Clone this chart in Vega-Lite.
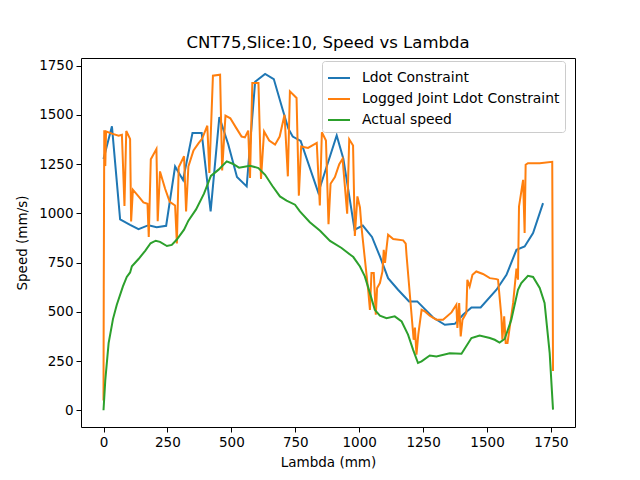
{
  "$schema": "https://vega.github.io/schema/vega-lite/v6.json",
  "autosize": {"type": "none"},
  "padding": {"left": 81, "top": 58, "right": 65, "bottom": 53},
  "width": 494,
  "height": 369,
  "background": "white",
  "title": {
    "text": "CNT75,Slice:10, Speed vs Lambda",
    "font": "DejaVu Sans",
    "fontSize": 16.5,
    "fontWeight": "normal",
    "color": "black",
    "offset": 7
  },
  "config": {
    "view": {"stroke": "black", "strokeWidth": 1},
    "axis": {
      "grid": false,
      "domain": false,
      "tickColor": "black",
      "tickSize": 5,
      "labelFont": "DejaVu Sans",
      "labelFontSize": 13.5,
      "labelColor": "black",
      "titleFont": "DejaVu Sans",
      "titleFontSize": 13.5,
      "titleFontWeight": "normal",
      "titleColor": "black",
      "labelPadding": 3
    }
  },
  "data": {
    "values": [
      {"series": "Ldot Constraint", "lambda": 0, "speed": 1276},
      {"series": "Ldot Constraint", "lambda": 33, "speed": 1442},
      {"series": "Ldot Constraint", "lambda": 65, "speed": 970},
      {"series": "Ldot Constraint", "lambda": 104, "speed": 942},
      {"series": "Ldot Constraint", "lambda": 137, "speed": 920},
      {"series": "Ldot Constraint", "lambda": 176, "speed": 940},
      {"series": "Ldot Constraint", "lambda": 208, "speed": 930},
      {"series": "Ldot Constraint", "lambda": 245, "speed": 937},
      {"series": "Ldot Constraint", "lambda": 280, "speed": 1238},
      {"series": "Ldot Constraint", "lambda": 311, "speed": 1169},
      {"series": "Ldot Constraint", "lambda": 348, "speed": 1408},
      {"series": "Ldot Constraint", "lambda": 384, "speed": 1408},
      {"series": "Ldot Constraint", "lambda": 419, "speed": 1010},
      {"series": "Ldot Constraint", "lambda": 453, "speed": 1489},
      {"series": "Ldot Constraint", "lambda": 488, "speed": 1350},
      {"series": "Ldot Constraint", "lambda": 522, "speed": 1185},
      {"series": "Ldot Constraint", "lambda": 560, "speed": 1137},
      {"series": "Ldot Constraint", "lambda": 593, "speed": 1668},
      {"series": "Ldot Constraint", "lambda": 632, "speed": 1708},
      {"series": "Ldot Constraint", "lambda": 666, "speed": 1682},
      {"series": "Ldot Constraint", "lambda": 700, "speed": 1530},
      {"series": "Ldot Constraint", "lambda": 723, "speed": 1430},
      {"series": "Ldot Constraint", "lambda": 740, "speed": 1390},
      {"series": "Ldot Constraint", "lambda": 771, "speed": 1368},
      {"series": "Ldot Constraint", "lambda": 840, "speed": 1105},
      {"series": "Ldot Constraint", "lambda": 912, "speed": 1396},
      {"series": "Ldot Constraint", "lambda": 938, "speed": 1278},
      {"series": "Ldot Constraint", "lambda": 982, "speed": 917},
      {"series": "Ldot Constraint", "lambda": 1014, "speed": 938},
      {"series": "Ldot Constraint", "lambda": 1050, "speed": 880},
      {"series": "Ldot Constraint", "lambda": 1081, "speed": 781},
      {"series": "Ldot Constraint", "lambda": 1113, "speed": 671},
      {"series": "Ldot Constraint", "lambda": 1152, "speed": 612},
      {"series": "Ldot Constraint", "lambda": 1195, "speed": 553},
      {"series": "Ldot Constraint", "lambda": 1227, "speed": 553},
      {"series": "Ldot Constraint", "lambda": 1289, "speed": 471},
      {"series": "Ldot Constraint", "lambda": 1335, "speed": 434},
      {"series": "Ldot Constraint", "lambda": 1374, "speed": 439},
      {"series": "Ldot Constraint", "lambda": 1406, "speed": 485},
      {"series": "Ldot Constraint", "lambda": 1439, "speed": 522},
      {"series": "Ldot Constraint", "lambda": 1475, "speed": 522},
      {"series": "Ldot Constraint", "lambda": 1537, "speed": 612},
      {"series": "Ldot Constraint", "lambda": 1576, "speed": 688},
      {"series": "Ldot Constraint", "lambda": 1615, "speed": 815},
      {"series": "Ldot Constraint", "lambda": 1647, "speed": 832},
      {"series": "Ldot Constraint", "lambda": 1680, "speed": 900},
      {"series": "Ldot Constraint", "lambda": 1719, "speed": 1052},

      {"series": "Logged Joint Ldot Constraint", "lambda": 0, "speed": 50},
      {"series": "Logged Joint Ldot Constraint", "lambda": 1, "speed": 620},
      {"series": "Logged Joint Ldot Constraint", "lambda": 3, "speed": 1422},
      {"series": "Logged Joint Ldot Constraint", "lambda": 7, "speed": 1240},
      {"series": "Logged Joint Ldot Constraint", "lambda": 10, "speed": 1416},
      {"series": "Logged Joint Ldot Constraint", "lambda": 33, "speed": 1405},
      {"series": "Logged Joint Ldot Constraint", "lambda": 59, "speed": 1394},
      {"series": "Logged Joint Ldot Constraint", "lambda": 72, "speed": 1399},
      {"series": "Logged Joint Ldot Constraint", "lambda": 82, "speed": 1037},
      {"series": "Logged Joint Ldot Constraint", "lambda": 89, "speed": 1418},
      {"series": "Logged Joint Ldot Constraint", "lambda": 104, "speed": 1378},
      {"series": "Logged Joint Ldot Constraint", "lambda": 108, "speed": 959},
      {"series": "Logged Joint Ldot Constraint", "lambda": 115, "speed": 1120},
      {"series": "Logged Joint Ldot Constraint", "lambda": 137, "speed": 1086},
      {"series": "Logged Joint Ldot Constraint", "lambda": 156, "speed": 1056},
      {"series": "Logged Joint Ldot Constraint", "lambda": 172, "speed": 1049},
      {"series": "Logged Joint Ldot Constraint", "lambda": 177, "speed": 880},
      {"series": "Logged Joint Ldot Constraint", "lambda": 185, "speed": 1275},
      {"series": "Logged Joint Ldot Constraint", "lambda": 207, "speed": 1327},
      {"series": "Logged Joint Ldot Constraint", "lambda": 212, "speed": 960},
      {"series": "Logged Joint Ldot Constraint", "lambda": 221, "speed": 1213},
      {"series": "Logged Joint Ldot Constraint", "lambda": 241, "speed": 1125},
      {"series": "Logged Joint Ldot Constraint", "lambda": 259, "speed": 1058},
      {"series": "Logged Joint Ldot Constraint", "lambda": 280, "speed": 1040},
      {"series": "Logged Joint Ldot Constraint", "lambda": 287, "speed": 847},
      {"series": "Logged Joint Ldot Constraint", "lambda": 294, "speed": 1234},
      {"series": "Logged Joint Ldot Constraint", "lambda": 315, "speed": 1290},
      {"series": "Logged Joint Ldot Constraint", "lambda": 323, "speed": 1010},
      {"series": "Logged Joint Ldot Constraint", "lambda": 332, "speed": 1238},
      {"series": "Logged Joint Ldot Constraint", "lambda": 352, "speed": 1320},
      {"series": "Logged Joint Ldot Constraint", "lambda": 372, "speed": 1357},
      {"series": "Logged Joint Ldot Constraint", "lambda": 386, "speed": 1380},
      {"series": "Logged Joint Ldot Constraint", "lambda": 406, "speed": 1445},
      {"series": "Logged Joint Ldot Constraint", "lambda": 414, "speed": 1205},
      {"series": "Logged Joint Ldot Constraint", "lambda": 428, "speed": 1699},
      {"series": "Logged Joint Ldot Constraint", "lambda": 456, "speed": 1704},
      {"series": "Logged Joint Ldot Constraint", "lambda": 464, "speed": 1218},
      {"series": "Logged Joint Ldot Constraint", "lambda": 477, "speed": 1496},
      {"series": "Logged Joint Ldot Constraint", "lambda": 496, "speed": 1483},
      {"series": "Logged Joint Ldot Constraint", "lambda": 517, "speed": 1438},
      {"series": "Logged Joint Ldot Constraint", "lambda": 540, "speed": 1390},
      {"series": "Logged Joint Ldot Constraint", "lambda": 553, "speed": 1386},
      {"series": "Logged Joint Ldot Constraint", "lambda": 566, "speed": 1420},
      {"series": "Logged Joint Ldot Constraint", "lambda": 573, "speed": 1180},
      {"series": "Logged Joint Ldot Constraint", "lambda": 582, "speed": 1662},
      {"series": "Logged Joint Ldot Constraint", "lambda": 606, "speed": 1662},
      {"series": "Logged Joint Ldot Constraint", "lambda": 616, "speed": 1175},
      {"series": "Logged Joint Ldot Constraint", "lambda": 628, "speed": 1416},
      {"series": "Logged Joint Ldot Constraint", "lambda": 648, "speed": 1370},
      {"series": "Logged Joint Ldot Constraint", "lambda": 671, "speed": 1349},
      {"series": "Logged Joint Ldot Constraint", "lambda": 689, "speed": 1390},
      {"series": "Logged Joint Ldot Constraint", "lambda": 708, "speed": 1501},
      {"series": "Logged Joint Ldot Constraint", "lambda": 721, "speed": 1188},
      {"series": "Logged Joint Ldot Constraint", "lambda": 729, "speed": 1620},
      {"series": "Logged Joint Ldot Constraint", "lambda": 755, "speed": 1586},
      {"series": "Logged Joint Ldot Constraint", "lambda": 764, "speed": 1090},
      {"series": "Logged Joint Ldot Constraint", "lambda": 773, "speed": 1340},
      {"series": "Logged Joint Ldot Constraint", "lambda": 800, "speed": 1332},
      {"series": "Logged Joint Ldot Constraint", "lambda": 834, "speed": 1358},
      {"series": "Logged Joint Ldot Constraint", "lambda": 846, "speed": 1040},
      {"series": "Logged Joint Ldot Constraint", "lambda": 854, "speed": 1412},
      {"series": "Logged Joint Ldot Constraint", "lambda": 870, "speed": 1370},
      {"series": "Logged Joint Ldot Constraint", "lambda": 880, "speed": 945},
      {"series": "Logged Joint Ldot Constraint", "lambda": 888, "speed": 1150},
      {"series": "Logged Joint Ldot Constraint", "lambda": 905, "speed": 1184},
      {"series": "Logged Joint Ldot Constraint", "lambda": 922, "speed": 1250},
      {"series": "Logged Joint Ldot Constraint", "lambda": 935, "speed": 1277},
      {"series": "Logged Joint Ldot Constraint", "lambda": 953, "speed": 998},
      {"series": "Logged Joint Ldot Constraint", "lambda": 961, "speed": 1376},
      {"series": "Logged Joint Ldot Constraint", "lambda": 976, "speed": 1345},
      {"series": "Logged Joint Ldot Constraint", "lambda": 983, "speed": 885},
      {"series": "Logged Joint Ldot Constraint", "lambda": 993, "speed": 1086},
      {"series": "Logged Joint Ldot Constraint", "lambda": 1003, "speed": 1030},
      {"series": "Logged Joint Ldot Constraint", "lambda": 1009, "speed": 930},
      {"series": "Logged Joint Ldot Constraint", "lambda": 1022, "speed": 770},
      {"series": "Logged Joint Ldot Constraint", "lambda": 1035, "speed": 612},
      {"series": "Logged Joint Ldot Constraint", "lambda": 1042, "speed": 510},
      {"series": "Logged Joint Ldot Constraint", "lambda": 1048, "speed": 697},
      {"series": "Logged Joint Ldot Constraint", "lambda": 1057, "speed": 697},
      {"series": "Logged Joint Ldot Constraint", "lambda": 1065, "speed": 485},
      {"series": "Logged Joint Ldot Constraint", "lambda": 1070, "speed": 621},
      {"series": "Logged Joint Ldot Constraint", "lambda": 1081, "speed": 646},
      {"series": "Logged Joint Ldot Constraint", "lambda": 1091, "speed": 705},
      {"series": "Logged Joint Ldot Constraint", "lambda": 1096, "speed": 815},
      {"series": "Logged Joint Ldot Constraint", "lambda": 1101, "speed": 748},
      {"series": "Logged Joint Ldot Constraint", "lambda": 1107, "speed": 824},
      {"series": "Logged Joint Ldot Constraint", "lambda": 1113, "speed": 892},
      {"series": "Logged Joint Ldot Constraint", "lambda": 1133, "speed": 870},
      {"series": "Logged Joint Ldot Constraint", "lambda": 1172, "speed": 863},
      {"series": "Logged Joint Ldot Constraint", "lambda": 1182, "speed": 846},
      {"series": "Logged Joint Ldot Constraint", "lambda": 1185, "speed": 790},
      {"series": "Logged Joint Ldot Constraint", "lambda": 1213, "speed": 358},
      {"series": "Logged Joint Ldot Constraint", "lambda": 1218, "speed": 420},
      {"series": "Logged Joint Ldot Constraint", "lambda": 1224, "speed": 282},
      {"series": "Logged Joint Ldot Constraint", "lambda": 1231, "speed": 384},
      {"series": "Logged Joint Ldot Constraint", "lambda": 1244, "speed": 510},
      {"series": "Logged Joint Ldot Constraint", "lambda": 1257, "speed": 502},
      {"series": "Logged Joint Ldot Constraint", "lambda": 1276, "speed": 480},
      {"series": "Logged Joint Ldot Constraint", "lambda": 1302, "speed": 460},
      {"series": "Logged Joint Ldot Constraint", "lambda": 1328, "speed": 460},
      {"series": "Logged Joint Ldot Constraint", "lambda": 1361, "speed": 497},
      {"series": "Logged Joint Ldot Constraint", "lambda": 1380, "speed": 536},
      {"series": "Logged Joint Ldot Constraint", "lambda": 1384, "speed": 418},
      {"series": "Logged Joint Ldot Constraint", "lambda": 1391, "speed": 545},
      {"series": "Logged Joint Ldot Constraint", "lambda": 1397, "speed": 375},
      {"series": "Logged Joint Ldot Constraint", "lambda": 1404, "speed": 460},
      {"series": "Logged Joint Ldot Constraint", "lambda": 1419, "speed": 494},
      {"series": "Logged Joint Ldot Constraint", "lambda": 1423, "speed": 663},
      {"series": "Logged Joint Ldot Constraint", "lambda": 1432, "speed": 629},
      {"series": "Logged Joint Ldot Constraint", "lambda": 1443, "speed": 688},
      {"series": "Logged Joint Ldot Constraint", "lambda": 1458, "speed": 705},
      {"series": "Logged Joint Ldot Constraint", "lambda": 1484, "speed": 692},
      {"series": "Logged Joint Ldot Constraint", "lambda": 1511, "speed": 671},
      {"series": "Logged Joint Ldot Constraint", "lambda": 1537, "speed": 666},
      {"series": "Logged Joint Ldot Constraint", "lambda": 1543, "speed": 663},
      {"series": "Logged Joint Ldot Constraint", "lambda": 1556, "speed": 477},
      {"series": "Logged Joint Ldot Constraint", "lambda": 1560, "speed": 358},
      {"series": "Logged Joint Ldot Constraint", "lambda": 1567, "speed": 477},
      {"series": "Logged Joint Ldot Constraint", "lambda": 1573, "speed": 341},
      {"series": "Logged Joint Ldot Constraint", "lambda": 1580, "speed": 341},
      {"series": "Logged Joint Ldot Constraint", "lambda": 1602, "speed": 545},
      {"series": "Logged Joint Ldot Constraint", "lambda": 1615, "speed": 720},
      {"series": "Logged Joint Ldot Constraint", "lambda": 1621, "speed": 663},
      {"series": "Logged Joint Ldot Constraint", "lambda": 1625, "speed": 1035},
      {"series": "Logged Joint Ldot Constraint", "lambda": 1634, "speed": 1110},
      {"series": "Logged Joint Ldot Constraint", "lambda": 1641, "speed": 1170},
      {"series": "Logged Joint Ldot Constraint", "lambda": 1647, "speed": 900},
      {"series": "Logged Joint Ldot Constraint", "lambda": 1651, "speed": 1247},
      {"series": "Logged Joint Ldot Constraint", "lambda": 1660, "speed": 1255},
      {"series": "Logged Joint Ldot Constraint", "lambda": 1706, "speed": 1255},
      {"series": "Logged Joint Ldot Constraint", "lambda": 1755, "speed": 1262},
      {"series": "Logged Joint Ldot Constraint", "lambda": 1758, "speed": 200},

      {"series": "Actual speed", "lambda": 0, "speed": 0},
      {"series": "Actual speed", "lambda": 7, "speed": 153},
      {"series": "Actual speed", "lambda": 20, "speed": 341},
      {"series": "Actual speed", "lambda": 33, "speed": 434},
      {"series": "Actual speed", "lambda": 37, "speed": 463},
      {"series": "Actual speed", "lambda": 52, "speed": 536},
      {"series": "Actual speed", "lambda": 76, "speed": 629},
      {"series": "Actual speed", "lambda": 91, "speed": 677},
      {"series": "Actual speed", "lambda": 104, "speed": 700},
      {"series": "Actual speed", "lambda": 111, "speed": 731},
      {"series": "Actual speed", "lambda": 137, "speed": 768},
      {"series": "Actual speed", "lambda": 163, "speed": 810},
      {"series": "Actual speed", "lambda": 184, "speed": 848},
      {"series": "Actual speed", "lambda": 204, "speed": 861},
      {"series": "Actual speed", "lambda": 221, "speed": 855},
      {"series": "Actual speed", "lambda": 248, "speed": 834},
      {"series": "Actual speed", "lambda": 267, "speed": 840},
      {"series": "Actual speed", "lambda": 286, "speed": 866},
      {"series": "Actual speed", "lambda": 315, "speed": 917},
      {"series": "Actual speed", "lambda": 332, "speed": 963},
      {"series": "Actual speed", "lambda": 362, "speed": 1020},
      {"series": "Actual speed", "lambda": 393, "speed": 1100},
      {"series": "Actual speed", "lambda": 420, "speed": 1190},
      {"series": "Actual speed", "lambda": 450, "speed": 1222},
      {"series": "Actual speed", "lambda": 482, "speed": 1264},
      {"series": "Actual speed", "lambda": 505, "speed": 1252},
      {"series": "Actual speed", "lambda": 530, "speed": 1232},
      {"series": "Actual speed", "lambda": 573, "speed": 1242},
      {"series": "Actual speed", "lambda": 606, "speed": 1230},
      {"series": "Actual speed", "lambda": 632, "speed": 1196},
      {"series": "Actual speed", "lambda": 660, "speed": 1140},
      {"series": "Actual speed", "lambda": 690, "speed": 1086},
      {"series": "Actual speed", "lambda": 716, "speed": 1065},
      {"series": "Actual speed", "lambda": 749, "speed": 1044},
      {"series": "Actual speed", "lambda": 768, "speed": 1010},
      {"series": "Actual speed", "lambda": 807, "speed": 955},
      {"series": "Actual speed", "lambda": 847, "speed": 912},
      {"series": "Actual speed", "lambda": 886, "speed": 860},
      {"series": "Actual speed", "lambda": 931, "speed": 824},
      {"series": "Actual speed", "lambda": 977, "speed": 778},
      {"series": "Actual speed", "lambda": 1003, "speed": 730},
      {"series": "Actual speed", "lambda": 1022, "speed": 680},
      {"series": "Actual speed", "lambda": 1042, "speed": 595},
      {"series": "Actual speed", "lambda": 1061, "speed": 510},
      {"series": "Actual speed", "lambda": 1081, "speed": 480},
      {"series": "Actual speed", "lambda": 1107, "speed": 468},
      {"series": "Actual speed", "lambda": 1139, "speed": 477},
      {"series": "Actual speed", "lambda": 1166, "speed": 451},
      {"series": "Actual speed", "lambda": 1191, "speed": 384},
      {"series": "Actual speed", "lambda": 1211, "speed": 307},
      {"series": "Actual speed", "lambda": 1230, "speed": 240},
      {"series": "Actual speed", "lambda": 1244, "speed": 248},
      {"series": "Actual speed", "lambda": 1276, "speed": 278},
      {"series": "Actual speed", "lambda": 1302, "speed": 273},
      {"series": "Actual speed", "lambda": 1354, "speed": 290},
      {"series": "Actual speed", "lambda": 1400, "speed": 287},
      {"series": "Actual speed", "lambda": 1439, "speed": 367},
      {"series": "Actual speed", "lambda": 1471, "speed": 380},
      {"series": "Actual speed", "lambda": 1511, "speed": 367},
      {"series": "Actual speed", "lambda": 1530, "speed": 358},
      {"series": "Actual speed", "lambda": 1549, "speed": 344},
      {"series": "Actual speed", "lambda": 1569, "speed": 362},
      {"series": "Actual speed", "lambda": 1595, "speed": 460},
      {"series": "Actual speed", "lambda": 1621, "speed": 612},
      {"series": "Actual speed", "lambda": 1634, "speed": 646},
      {"series": "Actual speed", "lambda": 1660, "speed": 683},
      {"series": "Actual speed", "lambda": 1680, "speed": 677},
      {"series": "Actual speed", "lambda": 1706, "speed": 621},
      {"series": "Actual speed", "lambda": 1725, "speed": 545},
      {"series": "Actual speed", "lambda": 1745, "speed": 290},
      {"series": "Actual speed", "lambda": 1758, "speed": 3}
    ]
  },
  "mark": {"type": "line", "strokeWidth": 2, "clip": true},
  "encoding": {
    "x": {
      "field": "lambda",
      "type": "quantitative",
      "scale": {"domain": [-88, 1844], "nice": false, "zero": false},
      "axis": {"title": "Lambda (mm)", "format": "d", "values": [0, 250, 500, 750, 1000, 1250, 1500, 1750], "titlePadding": 7}
    },
    "y": {
      "field": "speed",
      "type": "quantitative",
      "scale": {"domain": [-85, 1789], "nice": false, "zero": false},
      "axis": {"title": "Speed (mm/s)", "format": "d", "values": [0, 250, 500, 750, 1000, 1250, 1500, 1750], "titlePadding": 9}
    },
    "color": {
      "field": "series",
      "type": "nominal",
      "sort": ["Ldot Constraint", "Logged Joint Ldot Constraint", "Actual speed"],
      "scale": {
        "domain": ["Ldot Constraint", "Logged Joint Ldot Constraint", "Actual speed"],
        "range": ["#1f77b4", "#ff7f0e", "#2ca02c"]
      },
      "legend": {
        "title": null,
        "orient": "none",
        "legendX": 241,
        "legendY": 3,
        "symbolType": "stroke",
        "symbolSize": 484,
        "symbolStrokeWidth": 2,
        "labelFont": "DejaVu Sans",
        "labelFontSize": 13.9,
        "labelColor": "black",
        "labelLimit": 400,
        "labelOffset": 11,
        "rowPadding": 2,
        "padding": 5,
        "strokeColor": "#cccccc",
        "fillColor": "white",
        "cornerRadius": 3
      }
    }
  }
}
